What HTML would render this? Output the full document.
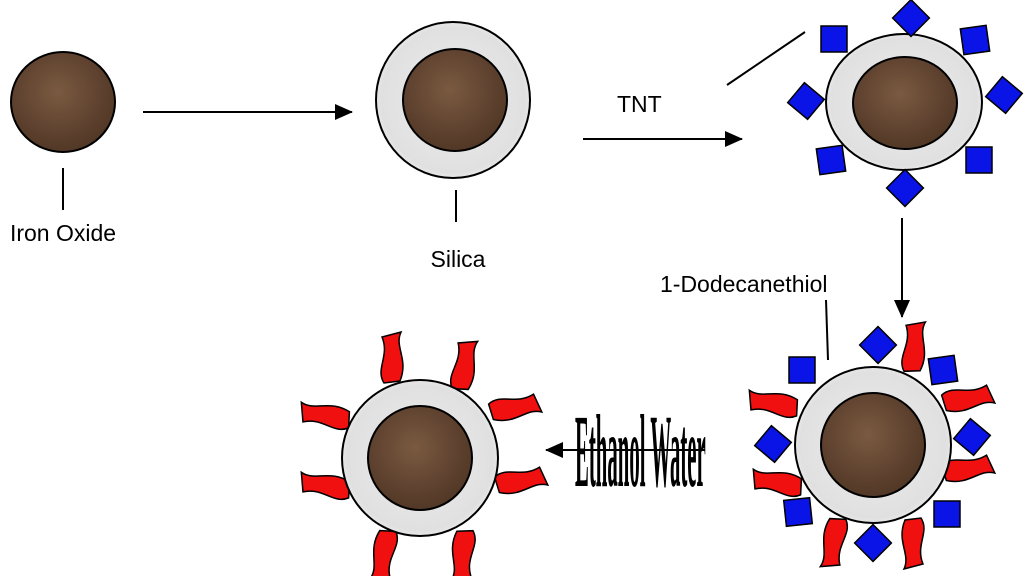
<!DOCTYPE html>
<html><head><meta charset="utf-8"><style>
html,body{margin:0;padding:0;background:#fff;}
svg{display:block;}
text{font-family:"Liberation Sans",sans-serif;font-size:23px;fill:#000;}
</style></head><body>
<svg width="1024" height="576" viewBox="0 0 1024 576" xmlns="http://www.w3.org/2000/svg">
<defs>
<radialGradient id="br" cx="45%" cy="40%" r="65%">
<stop offset="0" stop-color="#7a5a40"/><stop offset="0.6" stop-color="#604330"/><stop offset="1" stop-color="#4e3523"/>
</radialGradient>
<radialGradient id="si" cx="50%" cy="50%" r="55%">
<stop offset="0.6" stop-color="#e4e4e4"/><stop offset="0.85" stop-color="#e0e0e0"/><stop offset="1" stop-color="#f4f4f4"/>
</radialGradient>
<marker id="ah" markerWidth="18" markerHeight="16" refX="17" refY="8" orient="auto" markerUnits="userSpaceOnUse">
<path d="M0,0 L18,8 L0,16 Z" fill="#000"/></marker>
<path id="fl" d="M-8,0 C-17,-14 -2,-27 -10,-46 L9,-51 C2,-36 17,-24 8,-2 Z" fill="#f01010" stroke="#000" stroke-width="1.5"/>
<rect id="sq" x="-13" y="-13" width="26" height="26" fill="#0a14e6" stroke="#000" stroke-width="1.5"/>
</defs>
<g stroke="#000" stroke-width="2" fill="none">
<ellipse cx="63" cy="102" rx="52" ry="50" fill="url(#br)"/>
<line x1="63" y1="168" x2="63" y2="210"/>
<line x1="143" y1="112" x2="352" y2="112" marker-end="url(#ah)"/>
<ellipse cx="453" cy="100" rx="77" ry="78" fill="url(#si)"/>
<ellipse cx="455" cy="100" rx="52" ry="51" fill="url(#br)"/>
<line x1="456" y1="190" x2="456" y2="222"/>
<line x1="583" y1="139" x2="742" y2="139" marker-end="url(#ah)"/>
<line x1="727" y1="85" x2="805" y2="32"/>
<ellipse cx="904" cy="102" rx="78" ry="68" fill="url(#si)"/>
<ellipse cx="905" cy="103" rx="52" ry="46" fill="url(#br)"/>
<line x1="902" y1="218" x2="902" y2="317" marker-end="url(#ah)"/>
<line x1="826" y1="300" x2="828" y2="360"/>
<line x1="705" y1="450" x2="546" y2="450" marker-end="url(#ah)"/>
</g>
<g>
<use href="#sq" transform="translate(834,39)"/>
<use href="#sq" transform="translate(911,18) rotate(45)"/>
<use href="#sq" transform="translate(975,40) rotate(-8)"/>
<use href="#sq" transform="translate(806,101) rotate(40)"/>
<use href="#sq" transform="translate(1004,95) rotate(40)"/>
<use href="#sq" transform="translate(831,160) rotate(-8)"/>
<use href="#sq" transform="translate(979,160)"/>
<use href="#sq" transform="translate(905,188) rotate(45)"/>
</g>
<g>
<use href="#fl" transform="translate(912,372) rotate(5)"/>
<use href="#fl" transform="translate(798,408) rotate(-80)"/>
<use href="#fl" transform="translate(802,487) rotate(-80)"/>
<use href="#fl" transform="translate(943,403) rotate(80)"/>
<use href="#fl" transform="translate(943,473) rotate(80)"/>
<use href="#fl" transform="translate(838,518) rotate(190)"/>
<use href="#fl" transform="translate(913,518) rotate(180)"/>
<circle cx="873" cy="445" r="78" fill="url(#si)" stroke="#000" stroke-width="2"/>
<circle cx="873" cy="445" r="52" fill="url(#br)" stroke="#000" stroke-width="2"/>
<use href="#sq" transform="translate(802,370)"/>
<use href="#sq" transform="translate(878,345) rotate(45)"/>
<use href="#sq" transform="translate(943,370) rotate(-8)"/>
<use href="#sq" transform="translate(773,444) rotate(40)"/>
<use href="#sq" transform="translate(972,437) rotate(40)"/>
<use href="#sq" transform="translate(798,512) rotate(-6)"/>
<use href="#sq" transform="translate(873,543) rotate(45)"/>
<use href="#sq" transform="translate(947,514)"/>
</g>
<g>
<use href="#fl" transform="translate(392,383)"/>
<use href="#fl" transform="translate(460,390) rotate(10)"/>
<use href="#fl" transform="translate(350,420) rotate(-80)"/>
<use href="#fl" transform="translate(490,412) rotate(80)"/>
<use href="#fl" transform="translate(350,490) rotate(-80)"/>
<use href="#fl" transform="translate(496,485) rotate(80)"/>
<use href="#fl" transform="translate(388,530) rotate(190)"/>
<use href="#fl" transform="translate(465,530) rotate(185)"/>
<circle cx="420" cy="458" r="78" fill="url(#si)" stroke="#000" stroke-width="2"/>
<circle cx="420" cy="458" r="52" fill="url(#br)" stroke="#000" stroke-width="2"/>
</g>
<text x="63" y="241" text-anchor="middle">Iron Oxide</text>
<text x="458" y="267" text-anchor="middle">Silica</text>
<text x="617" y="112">TNT</text>
<text x="660" y="292">1-Dodecanethiol</text>
<text transform="translate(575,486) scale(0.52,2.6)" style="font-family:'Liberation Serif',serif;font-size:40px;font-weight:bold;">Ethanol Water</text>
</svg>
</body></html>
